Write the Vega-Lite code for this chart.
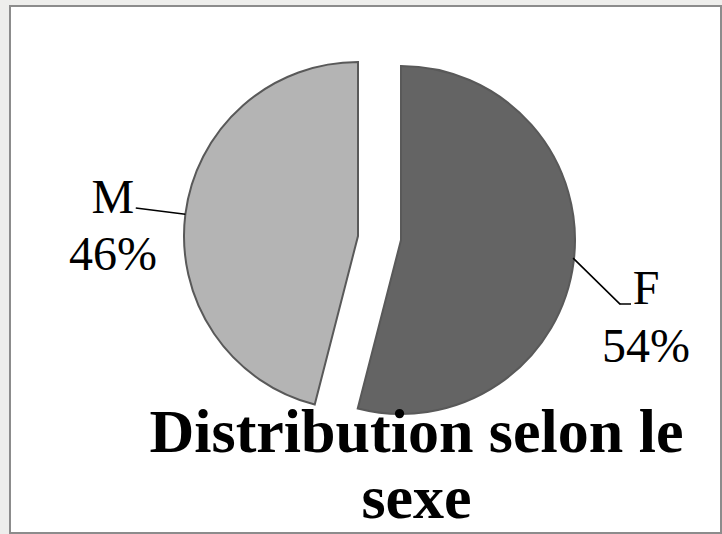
{
  "$schema": "https://vega.github.io/schema/vega-lite/v6.json",
  "width": 711,
  "height": 527,
  "autosize": {"type": "none"},
  "padding": {"left": 10, "top": 6, "right": 1, "bottom": 1},
  "background": "#eeeeec",
  "view": {"fill": "white", "stroke": "#8c8c8c", "strokeWidth": 2},
  "config": {
    "view": {"fill": "white", "stroke": "#8c8c8c", "strokeWidth": 2},
    "font": "Liberation Serif"
  },
  "title": {
    "text": ["Distribution selon le", "sexe"],
    "orient": "bottom",
    "anchor": "middle",
    "offset": -81,
    "dx": 51,
    "baseline": "alphabetic",
    "lineHeight": 66,
    "font": "Liberation Serif",
    "fontSize": 62,
    "fontWeight": "bold",
    "color": "black"
  },
  "data": {
    "values": [
      {"sex": "F", "pct": 0.54},
      {"sex": "M", "pct": 0.46}
    ]
  },
  "encoding": {
    "theta": {"field": "pct", "type": "quantitative", "stack": true},
    "order": {"field": "sex", "sort": "ascending"}
  },
  "resolve": {"scale": {"theta": "independent"}},
  "layer": [
    {
      "mark": {
        "type": "arc",
        "radius": 174,
        "stroke": "#595959",
        "strokeWidth": 2,
        "xOffset": {"expr": "datum.sex === 'F' ? 35.5 : -7.5"},
        "yOffset": {"expr": "datum.sex === 'F' ? -29.5 : -33.5"}
      },
      "encoding": {
        "color": {
          "field": "sex",
          "type": "nominal",
          "scale": {"domain": ["F", "M"], "range": ["#646464", "#b4b4b4"]},
          "legend": null
        }
      }
    },
    {
      "mark": {
        "type": "arc",
        "radius": {"expr": "datum.sex === 'F' ? 240 : 224"},
        "radius2": 174,
        "padAngle": 2.8,
        "fillOpacity": 0,
        "stroke": "black",
        "strokeWidth": 1.6,
        "thetaOffset": {"expr": "datum.sex === 'F' ? 1.4975 : 2.419"},
        "xOffset": {"expr": "datum.sex === 'F' ? 83.3 : -7.5"},
        "yOffset": {"expr": "datum.sex === 'F' ? -133.1 : -33.5"}
      },
      "encoding": {
        "theta": {"field": "pct", "type": "quantitative", "stack": true, "scale": {"range": [0, 3.14159]}},
        "detail": {"field": "sex", "type": "nominal"}
      }
    },
    {
      "mark": {
        "type": "arc",
        "radius": 185,
        "radius2": 174,
        "padAngle": 2.8,
        "fillOpacity": 0,
        "stroke": "black",
        "strokeWidth": 1.6,
        "strokeOpacity": {"expr": "datum.sex === 'F' ? 1 : 0"},
        "thetaOffset": {"expr": "datum.sex === 'F' ? 0.7226 : 0"},
        "xOffset": {"expr": "datum.sex === 'F' ? 80.5 : -7.5"},
        "yOffset": {"expr": "datum.sex === 'F' ? 34.5 : -33.5"}
      },
      "encoding": {
        "theta": {"field": "pct", "type": "quantitative", "stack": true, "scale": {"range": [0, 3.14159]}},
        "detail": {"field": "sex", "type": "nominal"}
      }
    },
    {
      "mark": {
        "type": "text",
        "radius": 247,
        "font": "Liberation Serif",
        "fontSize": 48,
        "color": "black",
        "align": "center",
        "baseline": "alphabetic",
        "xOffset": {"expr": "datum.sex === 'F' ? 35.5 : -7.5"},
        "yOffset": {"expr": "datum.sex === 'F' ? -29.5 : -33.5"},
        "dy": {"expr": "datum.sex === 'F' ? 33 : 8"}
      },
      "encoding": {
        "text": {"field": "sex", "type": "nominal"},
        "detail": {"field": "sex", "type": "nominal"}
      }
    },
    {
      "mark": {
        "type": "text",
        "radius": 247,
        "font": "Liberation Serif",
        "fontSize": 48,
        "color": "black",
        "align": "center",
        "baseline": "alphabetic",
        "xOffset": {"expr": "datum.sex === 'F' ? 35.5 : -7.5"},
        "yOffset": {"expr": "datum.sex === 'F' ? -29.5 : -33.5"},
        "dy": {"expr": "datum.sex === 'F' ? 91 : 65"}
      },
      "encoding": {
        "text": {"field": "pct", "type": "quantitative", "format": ".0%"},
        "detail": {"field": "sex", "type": "nominal"}
      }
    }
  ]
}
